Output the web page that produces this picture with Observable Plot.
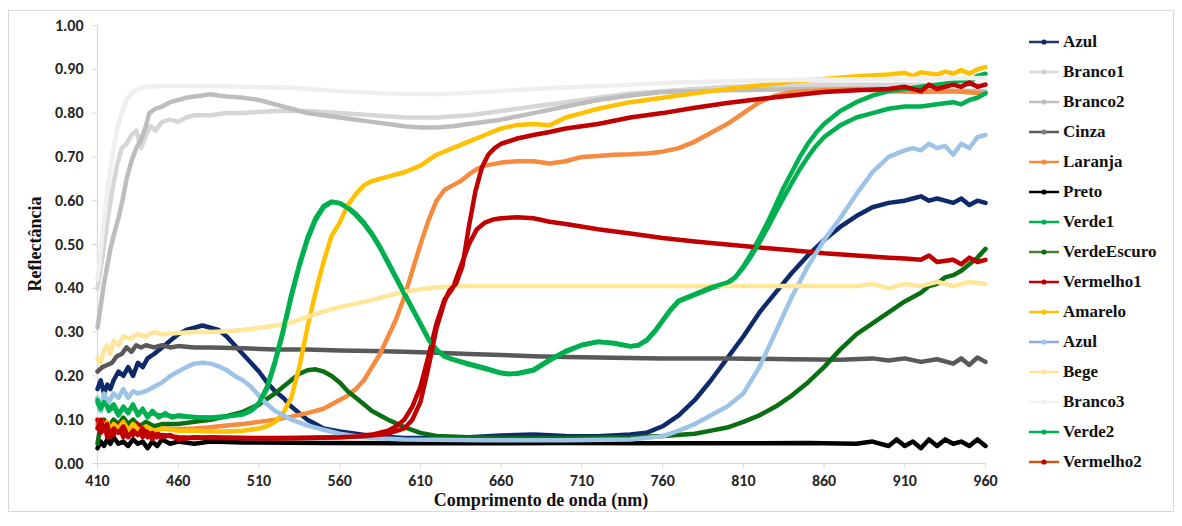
<!DOCTYPE html>
<html><head><meta charset="utf-8">
<script src="https://cdn.jsdelivr.net/npm/d3@7"></script>
<script src="https://cdn.jsdelivr.net/npm/@observablehq/plot@0.6"></script>
<style>
body{margin:0;background:#fff}
#wrap{position:relative;width:1182px;height:526px;overflow:hidden}
#frame{position:absolute;left:8px;top:10px;width:1166px;height:502px;border:1px solid #d9d9d9;box-sizing:border-box}
#chart{position:absolute;left:0;top:0}
.title{position:absolute;font-family:'Liberation Serif','Times New Roman',serif;font-weight:700;font-size:18px;color:#111;white-space:nowrap}
#legend{position:absolute;left:1028px;top:0}
.li{position:absolute;left:0;height:20px;display:flex;align-items:center;font-family:'Liberation Serif','Times New Roman',serif;font-weight:700;font-size:17px;color:#111;white-space:nowrap}
.li svg{margin-right:3px}
</style>
</head><body>
<div id="wrap"><div id="frame"></div><div id="chart"></div>
<div class="title" id="ytitle" style="left:35px;top:244px;transform:translate(-50%,-50%) rotate(-90deg)">Reflectância</div>
<div class="title" id="xtitle" style="left:541px;top:500px;transform:translate(-50%,-50%)">Comprimento de onda (nm)</div>
<div id="legend"></div>
</div>
<script>
const xTicks = [410,460,510,560,610,660,710,760,810,860,910,960];
const yTicks = [0,0.1,0.2,0.3,0.4,0.5,0.6,0.7,0.8,0.9,1.0];

const azul = [[410,0.17],[412,0.19],[414,0.16],[416,0.18],[418,0.17],[420,0.19],[423,0.21],[426,0.2],[429,0.22],[432,0.2],[435,0.23],[438,0.22],[441,0.24],[445,0.25],[450,0.265],[455,0.28],[460,0.295],[465,0.305],[470,0.31],[475,0.315],[480,0.31],[485,0.305],[490,0.29],[495,0.27],[500,0.25],[505,0.23],[510,0.21],[515,0.185],[520,0.165],[525,0.15],[530,0.13],[535,0.115],[540,0.1],[545,0.09],[550,0.08],[560,0.073],[570,0.068],[580,0.063],[600,0.058],[620,0.058],[640,0.06],[660,0.064],[680,0.066],[700,0.063],[720,0.062],[740,0.066],[750,0.07],[760,0.085],[770,0.11],[780,0.145],[790,0.19],[800,0.24],[810,0.29],[820,0.345],[830,0.39],[840,0.435],[850,0.475],[860,0.51],[870,0.54],[880,0.565],[890,0.585],[900,0.595],[910,0.6],[915,0.605],[920,0.61],[925,0.6],[930,0.605],[935,0.6],[940,0.595],[945,0.605],[950,0.59],[955,0.6],[960,0.595]];
const branco1 = [[410,0.4],[413,0.47],[416,0.55],[419,0.62],[422,0.68],[425,0.72],[428,0.73],[431,0.75],[434,0.76],[437,0.72],[440,0.75],[443,0.77],[446,0.76],[450,0.78],[455,0.785],[460,0.78],[465,0.79],[470,0.795],[480,0.795],[490,0.8],[500,0.8],[520,0.805],[540,0.805],[560,0.8],[580,0.795],[600,0.79],[620,0.79],[640,0.795],[660,0.805],[680,0.815],[700,0.825],[720,0.835],[740,0.845],[760,0.85],[780,0.855],[800,0.86],[850,0.865],[900,0.865],[960,0.865]];
const branco2 = [[410,0.31],[412,0.36],[414,0.41],[416,0.45],[418,0.49],[420,0.52],[423,0.56],[426,0.61],[428,0.65],[431,0.69],[434,0.72],[437,0.74],[440,0.77],[442,0.8],[446,0.81],[450,0.815],[455,0.825],[460,0.83],[465,0.835],[470,0.838],[475,0.84],[480,0.843],[485,0.84],[490,0.838],[495,0.837],[500,0.835],[510,0.83],[520,0.82],[530,0.81],[540,0.8],[550,0.795],[560,0.79],[570,0.785],[580,0.78],[590,0.775],[600,0.77],[610,0.767],[620,0.767],[630,0.77],[640,0.775],[660,0.785],[680,0.8],[700,0.815],[720,0.83],[740,0.84],[760,0.848],[780,0.85],[800,0.852],[850,0.855],[900,0.855],[960,0.85]];
const cinza = [[410,0.21],[413,0.22],[416,0.225],[419,0.23],[422,0.245],[425,0.25],[428,0.265],[431,0.255],[434,0.27],[437,0.265],[440,0.27],[445,0.265],[450,0.27],[455,0.265],[460,0.268],[470,0.265],[480,0.265],[500,0.263],[520,0.26],[540,0.26],[560,0.258],[580,0.257],[600,0.255],[620,0.253],[640,0.25],[660,0.248],[680,0.245],[700,0.243],[720,0.242],[740,0.241],[760,0.24],[800,0.24],[840,0.238],[870,0.237],[890,0.24],[900,0.235],[910,0.24],[920,0.232],[930,0.238],[940,0.228],[945,0.24],[950,0.225],[955,0.242],[960,0.232]];
const laranja = [[410,0.09],[412,0.07],[414,0.1],[417,0.08],[420,0.095],[423,0.075],[426,0.09],[429,0.08],[432,0.095],[436,0.075],[440,0.085],[445,0.075],[450,0.08],[460,0.078],[470,0.08],[480,0.083],[490,0.087],[500,0.09],[510,0.095],[520,0.1],[530,0.107],[540,0.115],[550,0.125],[560,0.145],[565,0.155],[570,0.17],[575,0.19],[580,0.22],[585,0.25],[590,0.29],[595,0.33],[600,0.38],[605,0.44],[610,0.5],[615,0.555],[620,0.6],[625,0.625],[630,0.635],[635,0.645],[640,0.66],[645,0.672],[650,0.68],[660,0.687],[670,0.69],[680,0.69],[690,0.685],[700,0.69],[710,0.7],[720,0.702],[730,0.705],[740,0.706],[750,0.708],[760,0.712],[770,0.72],[780,0.735],[790,0.755],[800,0.775],[810,0.8],[820,0.825],[830,0.84],[840,0.848],[860,0.852],[880,0.855],[900,0.85],[920,0.848],[940,0.85],[960,0.845]];
const preto = [[410,0.035],[412,0.05],[414,0.04],[416,0.055],[418,0.045],[420,0.06],[423,0.045],[426,0.05],[429,0.04],[432,0.055],[435,0.045],[438,0.05],[441,0.035],[444,0.05],[447,0.04],[450,0.055],[455,0.045],[460,0.05],[470,0.045],[480,0.05],[500,0.048],[550,0.047],[600,0.046],[650,0.046],[700,0.047],[750,0.046],[800,0.046],[850,0.047],[880,0.045],[890,0.05],[900,0.04],[905,0.055],[910,0.04],[915,0.05],[920,0.035],[925,0.055],[930,0.04],[935,0.055],[940,0.045],[945,0.05],[950,0.04],[955,0.055],[960,0.04]];
const verde1 = [[410,0.14],[412,0.12],[414,0.15],[417,0.12],[420,0.13],[423,0.11],[426,0.13],[429,0.115],[432,0.135],[435,0.11],[438,0.125],[441,0.105],[444,0.12],[448,0.105],[452,0.115],[456,0.105],[460,0.11],[470,0.105],[480,0.105],[490,0.108],[500,0.112],[505,0.12],[510,0.135],[515,0.17],[520,0.23],[525,0.3],[530,0.38],[535,0.45],[540,0.51],[545,0.555],[550,0.585],[555,0.597],[560,0.595],[565,0.585],[570,0.57],[575,0.55],[580,0.525],[585,0.495],[590,0.46],[595,0.425],[600,0.39],[605,0.355],[610,0.32],[615,0.285],[620,0.26],[625,0.245],[630,0.238],[640,0.228],[650,0.218],[660,0.207],[665,0.205],[670,0.205],[680,0.212],[690,0.235],[700,0.255],[710,0.27],[720,0.278],[730,0.275],[740,0.268],[745,0.27],[750,0.28],[755,0.3],[760,0.325],[765,0.35],[770,0.37],[780,0.385],[790,0.4],[800,0.41],[805,0.425],[810,0.45],[815,0.48],[820,0.515],[825,0.55],[830,0.59],[835,0.63],[840,0.665],[845,0.7],[850,0.73],[855,0.755],[860,0.775],[870,0.805],[880,0.825],[890,0.84],[900,0.85],[910,0.855],[920,0.86],[930,0.865],[940,0.87],[945,0.875],[950,0.87],[955,0.885],[960,0.89]];
const verdeEscuro = [[410,0.045],[412,0.09],[414,0.1],[417,0.085],[420,0.1],[423,0.09],[426,0.105],[429,0.09],[432,0.1],[436,0.085],[440,0.095],[445,0.085],[450,0.09],[460,0.09],[470,0.095],[480,0.1],[490,0.108],[500,0.118],[510,0.135],[520,0.16],[525,0.175],[530,0.19],[535,0.205],[540,0.213],[545,0.215],[550,0.21],[555,0.2],[560,0.185],[565,0.165],[570,0.15],[575,0.135],[580,0.12],[590,0.1],[600,0.083],[610,0.07],[620,0.063],[640,0.06],[660,0.058],[700,0.058],[740,0.06],[760,0.063],[780,0.068],[790,0.075],[800,0.082],[810,0.095],[820,0.11],[830,0.13],[840,0.155],[850,0.185],[860,0.22],[870,0.26],[880,0.295],[890,0.32],[900,0.345],[910,0.37],[920,0.39],[925,0.405],[930,0.41],[935,0.425],[940,0.43],[945,0.44],[950,0.455],[955,0.47],[960,0.49]];
const vermelho1 = [[410,0.1],[412,0.07],[414,0.095],[416,0.06],[418,0.085],[420,0.065],[423,0.09],[426,0.06],[429,0.08],[432,0.065],[435,0.09],[438,0.06],[441,0.075],[444,0.055],[447,0.07],[450,0.06],[455,0.065],[460,0.055],[470,0.06],[480,0.058],[500,0.058],[520,0.057],[540,0.058],[560,0.06],[570,0.062],[580,0.066],[590,0.075],[595,0.085],[600,0.1],[605,0.13],[610,0.175],[615,0.245],[620,0.32],[625,0.375],[630,0.4],[635,0.45],[640,0.5],[645,0.535],[650,0.55],[655,0.557],[660,0.56],[670,0.562],[680,0.56],[690,0.552],[700,0.547],[720,0.535],[740,0.525],[760,0.515],[780,0.507],[800,0.5],[820,0.493],[840,0.487],[860,0.48],[880,0.475],[900,0.47],[910,0.468],[920,0.465],[925,0.475],[930,0.46],[940,0.465],[945,0.455],[950,0.47],[955,0.46],[960,0.465]];
const amarelo = [[410,0.085],[412,0.1],[414,0.08],[416,0.095],[418,0.075],[420,0.09],[423,0.08],[426,0.095],[429,0.075],[432,0.09],[436,0.075],[440,0.085],[445,0.075],[450,0.08],[460,0.075],[470,0.075],[480,0.073],[490,0.073],[500,0.075],[510,0.08],[515,0.085],[520,0.095],[525,0.115],[530,0.15],[535,0.22],[540,0.31],[545,0.39],[550,0.46],[555,0.52],[560,0.55],[565,0.59],[570,0.615],[575,0.635],[580,0.645],[590,0.655],[600,0.665],[610,0.68],[620,0.705],[630,0.72],[640,0.735],[650,0.75],[660,0.765],[670,0.773],[680,0.775],[690,0.772],[700,0.79],[710,0.8],[720,0.81],[740,0.825],[760,0.835],[780,0.845],[800,0.855],[820,0.863],[840,0.872],[860,0.878],[880,0.884],[900,0.888],[910,0.892],[915,0.885],[920,0.893],[930,0.888],[935,0.895],[940,0.89],[945,0.898],[950,0.89],[955,0.9],[960,0.905]];
const azulClaro = [[410,0.15],[412,0.12],[414,0.16],[417,0.14],[420,0.16],[423,0.15],[426,0.17],[429,0.15],[432,0.165],[435,0.16],[440,0.165],[445,0.175],[450,0.185],[455,0.2],[460,0.21],[465,0.22],[470,0.228],[475,0.23],[480,0.228],[485,0.222],[490,0.213],[495,0.2],[500,0.19],[505,0.175],[510,0.155],[515,0.135],[520,0.12],[525,0.11],[530,0.1],[540,0.087],[550,0.077],[560,0.068],[570,0.062],[580,0.058],[600,0.055],[650,0.053],[700,0.053],[740,0.055],[760,0.062],[770,0.075],[780,0.09],[790,0.11],[800,0.13],[810,0.16],[820,0.22],[830,0.3],[840,0.38],[850,0.45],[860,0.51],[870,0.56],[880,0.615],[890,0.665],[900,0.7],[910,0.715],[915,0.72],[920,0.715],[925,0.73],[930,0.72],[935,0.725],[940,0.705],[945,0.73],[950,0.72],[955,0.745],[960,0.75]];
const bege = [[410,0.24],[412,0.23],[414,0.26],[416,0.27],[418,0.25],[420,0.28],[423,0.27],[426,0.29],[430,0.285],[435,0.295],[440,0.29],[445,0.3],[450,0.295],[460,0.298],[470,0.3],[480,0.3],[490,0.302],[500,0.305],[510,0.31],[520,0.315],[530,0.322],[540,0.335],[550,0.347],[560,0.357],[570,0.365],[580,0.373],[590,0.383],[600,0.392],[610,0.398],[620,0.402],[630,0.405],[650,0.405],[700,0.405],[750,0.405],[800,0.405],[850,0.405],[880,0.405],[890,0.41],[900,0.4],[910,0.41],[920,0.405],[930,0.415],[940,0.405],[950,0.415],[960,0.41]];
const branco3 = [[410,0.42],[413,0.52],[416,0.62],[419,0.7],[422,0.76],[425,0.8],[428,0.83],[431,0.845],[435,0.855],[440,0.86],[450,0.862],[470,0.862],[500,0.86],[530,0.858],[560,0.85],[590,0.845],[620,0.843],[650,0.848],[680,0.855],[710,0.86],[740,0.865],[770,0.87],[800,0.873],[850,0.876],[900,0.878],[960,0.88]];
const verde2 = [[410,0.145],[412,0.125],[414,0.14],[417,0.125],[420,0.135],[423,0.115],[426,0.125],[429,0.12],[432,0.13],[435,0.115],[438,0.12],[441,0.11],[444,0.115],[448,0.11],[452,0.11],[456,0.108],[460,0.108],[470,0.106],[480,0.104],[490,0.107],[500,0.113],[505,0.122],[510,0.138],[515,0.175],[520,0.235],[525,0.305],[530,0.385],[535,0.455],[540,0.515],[545,0.56],[550,0.588],[555,0.598],[560,0.594],[565,0.583],[570,0.567],[575,0.547],[580,0.522],[585,0.492],[590,0.457],[595,0.422],[600,0.387],[605,0.352],[610,0.318],[615,0.283],[620,0.258],[625,0.244],[630,0.237],[640,0.226],[650,0.216],[660,0.206],[665,0.204],[670,0.206],[680,0.214],[690,0.237],[700,0.257],[710,0.271],[720,0.278],[730,0.274],[740,0.267],[745,0.27],[750,0.282],[755,0.302],[760,0.327],[765,0.352],[770,0.372],[780,0.387],[790,0.402],[800,0.413],[805,0.425],[810,0.447],[815,0.474],[820,0.505],[825,0.538],[830,0.573],[835,0.607],[840,0.64],[845,0.672],[850,0.7],[855,0.725],[860,0.745],[870,0.772],[880,0.79],[890,0.8],[900,0.81],[910,0.815],[920,0.815],[930,0.82],[940,0.825],[945,0.82],[950,0.83],[955,0.835],[960,0.845]];
const vermelho2 = [[410,0.08],[412,0.1],[414,0.075],[416,0.09],[418,0.06],[420,0.08],[423,0.07],[426,0.085],[429,0.06],[432,0.075],[435,0.065],[438,0.08],[441,0.06],[444,0.07],[447,0.06],[450,0.065],[460,0.06],[470,0.058],[480,0.06],[500,0.058],[520,0.058],[540,0.059],[560,0.06],[575,0.062],[590,0.068],[600,0.08],[605,0.1],[610,0.14],[615,0.22],[620,0.31],[625,0.37],[628,0.395],[632,0.41],[636,0.45],[640,0.54],[644,0.62],[648,0.675],[652,0.705],[656,0.72],[660,0.73],[670,0.742],[680,0.75],[690,0.757],[700,0.765],[720,0.775],[740,0.79],[760,0.8],[780,0.812],[800,0.823],[820,0.832],[840,0.84],[860,0.848],[880,0.852],[900,0.855],[910,0.86],[920,0.85],[925,0.865],[930,0.855],[940,0.865],[945,0.86],[950,0.87],[955,0.86],[960,0.865]];

const seriesNames = ["Azul","Branco1","Branco2","Cinza","Laranja","Preto","Verde1","VerdeEscuro","Vermelho1","Amarelo","Azul","Bege","Branco3","Verde2","Vermelho2"];
const seriesData = [azul,branco1,branco2,cinza,laranja,preto,verde1,verdeEscuro,vermelho1,amarelo,azulClaro,bege,branco3,verde2,vermelho2];
const lineColors = ["#0e2a6a","#d6d6d6","#bdbdbd","#595959","#f58b3e","#000000","#00b050","#0a6e12","#c00000","#ffc000","#9dc3e6","#ffe699","#efefef","#00b050","#c00000"];
const legendLineColors = ["#1f3864","#d9d9d9","#bfbfbf","#595959","#f58b3e","#000000","#00b050","#4e7d33","#c00000","#ffc000","#8ea9db","#ffe699","#f2f2f2","#00b050","#c55a11"];
const legendMarkerColors = ["#0e2a6a","#d0d0d0","#bdbdbd","#7f7f7f","#f58b3e","#000000","#00b050","#0a6e12","#c00000","#ffc000","#9dc3e6","#ffe699","#efefef","#00b050","#c00000"];

const lineMarks = seriesData.map((s, i) =>
  Plot.line(s, {x: d => d[0], y: d => d[1], stroke: lineColors[i], strokeWidth: 4.5, strokeLinejoin: "round", strokeLinecap: "round"})
);

const chart = Plot.plot({
  width: 1010, height: 526,
  marginLeft: 97, marginRight: 25, marginTop: 25, marginBottom: 63,
  style: {fontFamily: "Carlito, Calibri, Lato, sans-serif", fontSize: "16px", fontWeight: "bold", background: "transparent"},
  x: {domain: [410, 960], label: null},
  y: {domain: [0, 1], label: null},
  marks: [
    Plot.ruleY([0], {stroke: "#d9d9d9", strokeWidth: 1.2}),
    Plot.ruleX([410], {stroke: "#d9d9d9", strokeWidth: 1.2}),
    Plot.axisX({ticks: xTicks, tickSize: 5, tickPadding: 6, stroke: "#d9d9d9", fill: "#262626", tickFormat: d => String(d), label: null}),
    Plot.axisY({ticks: yTicks, tickSize: 5, tickPadding: 9, stroke: "#d9d9d9", fill: "#262626", tickFormat: d3.format(".2f"), label: null}),
    ...lineMarks
  ]
});
document.getElementById("chart").appendChild(chart);

const lg = document.getElementById("legend");
seriesNames.forEach((name, i) => {
  const row = document.createElement("div");
  row.className = "li";
  row.style.top = (31.5 + 30 * i) + "px";
  row.innerHTML = `<svg width="32" height="10"><line x1="1" y1="5" x2="31" y2="5" stroke="${legendLineColors[i]}" stroke-width="2.5"/><circle cx="16" cy="5" r="2.6" fill="${legendMarkerColors[i]}"/></svg><span>${name}</span>`;
  lg.appendChild(row);
});
</script>
</body></html>
